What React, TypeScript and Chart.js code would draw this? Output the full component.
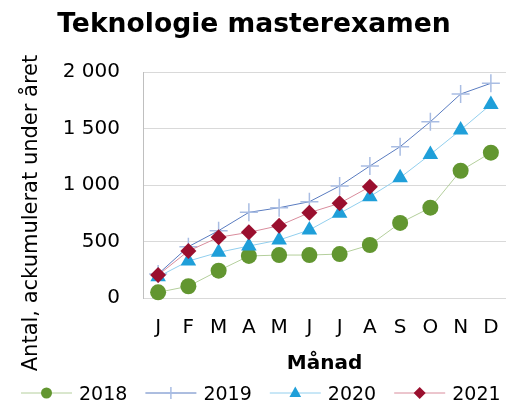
import React, { useEffect, useRef } from "react";
import { Chart, registerables } from "chart.js";

Chart.register(...registerables);

const months = ["J", "F", "M", "A", "M", "J", "J", "A", "S", "O", "N", "D"];
const series2018 = [50, 104, 242, 372, 380, 380, 389, 469, 664, 799, 1126, 1286];
const series2019 = [212, 454, 596, 758, 799, 852, 991, 1168, 1339, 1560, 1805, 1900];
const series2020 = [188, 327, 404, 460, 513, 602, 749, 897, 1065, 1271, 1487, 1713];
const series2021 = [203, 416, 537, 581, 640, 755, 838, 985];
const yTicks = [0, 500, 1000, 1500, 2000];
const seriesNames = ["2018", "2019", "2020", "2021"];

const FONT = "'DejaVu Sans', Verdana, sans-serif";

const styles = [
  { line: "#b4cf9c", fill: "#629630", stroke: "#629630", shape: "circle", r: 8, lr: 5.5 },
  { line: "#5a7cc0", fill: "#a9bde3", stroke: "#a9bde3", shape: "cross", r: 9, lr: 6 },
  { line: "#92cfee", fill: "#1f9fd9", stroke: "#1f9fd9", shape: "triangle", r: 9, lr: 6.5 },
  { line: "#d98c9c", fill: "#9a0f2e", stroke: "#9a0f2e", shape: "rectRot", r: 8, lr: 6 },
];

function fmt(v: number) {
  return String(v).replace(/\B(?=(\d{3})+(?!\d))/g, " ");
}

function drawMarker(ctx: CanvasRenderingContext2D, shape: string, x: number, y: number, r: number, fill: string, stroke: string) {
  ctx.save();
  ctx.fillStyle = fill;
  ctx.strokeStyle = stroke;
  ctx.lineWidth = 1.5;
  ctx.beginPath();
  if (shape === "circle") {
    ctx.arc(x, y, r, 0, Math.PI * 2);
    ctx.fill();
  } else if (shape === "cross") {
    ctx.moveTo(x - r, y);
    ctx.lineTo(x + r, y);
    ctx.moveTo(x, y - r);
    ctx.lineTo(x, y + r);
    ctx.stroke();
  } else if (shape === "triangle") {
    ctx.moveTo(x, y - r);
    ctx.lineTo(x + r * 0.9, y + r * 0.6);
    ctx.lineTo(x - r * 0.9, y + r * 0.6);
    ctx.closePath();
    ctx.fill();
  } else {
    ctx.moveTo(x - r, y);
    ctx.lineTo(x, y - r);
    ctx.lineTo(x + r, y);
    ctx.lineTo(x, y + r);
    ctx.closePath();
    ctx.fill();
  }
  ctx.restore();
}

const decorPlugin = {
  id: "decor",
  afterDraw(chart: any) {
    const ctx: CanvasRenderingContext2D = chart.ctx;
    const area = chart.chartArea;
    ctx.save();
    ctx.fillStyle = "#000";
    // Title
    ctx.font = `bold 26.6px ${FONT}`;
    ctx.textAlign = "center";
    ctx.textBaseline = "alphabetic";
    ctx.fillText("Teknologie masterexamen", 254, 32);
    // X title
    ctx.font = `bold 20px ${FONT}`;
    ctx.fillText("Månad", (area.left + area.right) / 2, 369);
    // Y title
    ctx.save();
    ctx.translate(37, 213);
    ctx.rotate(-Math.PI / 2);
    ctx.font = `21px ${FONT}`;
    ctx.fillText("Antal, ackumulerat under året", 0, 0);
    ctx.restore();
    // Legend
    ctx.font = `19px ${FONT}`;
    ctx.textAlign = "left";
    const ly = 393;
    seriesNames.forEach((name, i) => {
      const s = styles[i];
      const x0 = 21 + i * 124.4;
      ctx.strokeStyle = s.line;
      ctx.lineWidth = 1;
      ctx.beginPath();
      ctx.moveTo(x0, ly);
      ctx.lineTo(x0 + 51, ly);
      ctx.stroke();
      drawMarker(ctx, s.shape, x0 + 25.5, ly, s.lr, s.fill, s.stroke);
      ctx.fillStyle = "#000";
      ctx.fillText(name, x0 + 58, 400);
    });
    ctx.restore();
  },
};

export default function App() {
  const ref = useRef<HTMLCanvasElement | null>(null);
  useEffect(() => {
    document.body.style.margin = "0";
    if (!ref.current) return;
    const data = [series2018, series2019, series2020, series2021];
    const chart = new Chart(ref.current, {
      type: "line",
      data: {
        labels: months,
        datasets: data.map((d, i) => ({
          label: seriesNames[i],
          data: d,
          borderColor: styles[i].line,
          borderWidth: 1,
          backgroundColor: styles[i].fill,
          pointBackgroundColor: styles[i].fill,
          pointBorderColor: styles[i].stroke,
          pointBorderWidth: styles[i].shape === "cross" ? 1.5 : 0,
          pointStyle: styles[i].shape as any,
          pointRadius: styles[i].r,
          tension: 0,
          fill: false,
          clip: false,
          order: 4 - i,
        })),
      },
      options: {
        responsive: false,
        animation: false,
        layout: { autoPadding: false, padding: { top: 72, left: 0, right: 0, bottom: 0 } },
        plugins: {
          legend: { display: false },
          title: { display: false },
          tooltip: { enabled: false },
        },
        scales: {
          x: {
            type: "category",
            offset: true,
            grid: { display: false, drawTicks: false },
            border: { display: true, color: "#d9d9d9", width: 1 },
            ticks: { color: "#000", font: { family: FONT, size: 20 }, padding: 18, maxRotation: 0, autoSkip: false },
            afterFit: (axis: any) => {
              axis.height = 109;
              axis.paddingLeft = 0;
              axis.paddingRight = 0;
            },
          },
          y: {
            min: 0,
            max: 2000,
            afterBuildTicks: (axis: any) => {
              axis.ticks = yTicks.map((v) => ({ value: v }));
            },
            grid: { color: "#d9d9d9", drawTicks: false, lineWidth: 1 },
            border: { display: true, color: "#bfbfbf", width: 1 },
            ticks: {
              color: "#000",
              font: { family: FONT, size: 20 },
              padding: 23,
              callback: (v: any) => fmt(Number(v)),
            },
            afterFit: (axis: any) => {
              axis.width = 143;
            },
          },
        },
      },
      plugins: [decorPlugin],
    });
    return () => chart.destroy();
  }, []);
  return (
    <div style={{ width: 506, height: 407 }}>
      <canvas ref={ref} width={506} height={407} style={{ display: "block", width: 506, height: 407 }} />
    </div>
  );
}
